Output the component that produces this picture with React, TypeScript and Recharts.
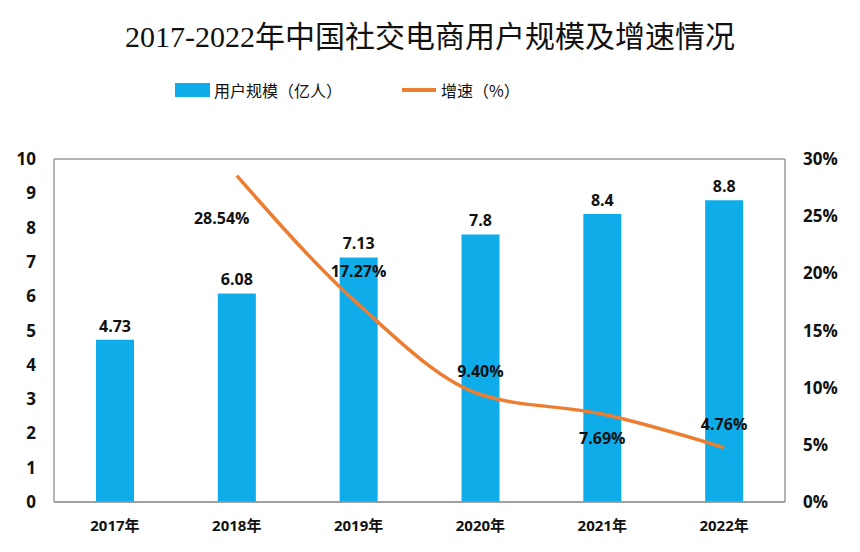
import { Bar, CartesianGrid, ComposedChart, LabelList, Line, XAxis, YAxis } from 'recharts'

const years = ['2017年', '2018年', '2019年', '2020年', '2021年', '2022年']
const users = [4.73, 6.08, 7.13, 7.8, 8.4, 8.8]
const growth = [null, 28.54, 17.27, 9.4, 7.69, 4.76]
const leftTicks = [0, 1, 2, 3, 4, 5, 6, 7, 8, 9, 10]
const rightTicks = [0, 5, 10, 15, 20, 25, 30]

const BAR_COLOR = '#0EADE9'
const LINE_COLOR = '#ED7D31'
const LABEL_FONT = '"Open Sans", "Noto Sans CJK SC", sans-serif'

// where each growth label sits relative to its point
const growthLabelShift = [
  { dx: 0, dy: 0 },
  { dx: -15, dy: 42 },
  { dx: 0, dy: -34 },
  { dx: 0, dy: -24 },
  { dx: 0, dy: 24 },
  { dx: 0, dy: -24 },
]

const chartData = years.map((year, i) => ({
  year,
  users: users[i],
  growth: growth[i],
}))

function GrowthLabel(props: any) {
  const { x, y, value, index } = props
  if (value == null) return null
  const shift = growthLabelShift[index] ?? { dx: 0, dy: -20 }
  return (
    <text
      x={x + shift.dx}
      y={y + shift.dy}
      textAnchor="middle"
      dominantBaseline="central"
      fontFamily={LABEL_FONT}
      fontWeight={700}
      fontSize={16}
      fill="#111"
    >
      {value.toFixed(2)}%
    </text>
  )
}

function ChartLegend() {
  return (
    <div
      style={{
        position: 'absolute',
        top: 78,
        left: 175,
        display: 'flex',
        alignItems: 'center',
        fontFamily: '"Noto Sans CJK SC", sans-serif',
        fontSize: 16,
        color: '#111',
      }}
    >
      <span style={{ width: 35, height: 14, background: BAR_COLOR, display: 'inline-block', marginRight: 4 }} />
      <span style={{ marginRight: 60 }}>用户规模（亿人）</span>
      <span style={{ width: 34, height: 4, background: LINE_COLOR, display: 'inline-block', marginRight: 5 }} />
      <span>增速（%）</span>
    </div>
  )
}

export default function App() {
  return (
    <div style={{ position: 'absolute', left: 0, top: 0, width: 860, height: 552, background: '#fff' }}>
      <div
        style={{
          position: 'absolute',
          top: 12,
          width: 860,
          textAlign: 'center',
          fontFamily: '"Liberation Serif", "Noto Sans CJK SC", serif',
          fontSize: 30,
          color: '#111',
          zIndex: 1,
        }}
      >
        2017-2022年中国社交电商用户规模及增速情况
      </div>
      <ChartLegend />
      <ComposedChart width={860} height={552} data={chartData} margin={{ top: 159, right: 40, bottom: 14, left: 4 }}>
        <CartesianGrid vertical={false} stroke="#9a9a9a" strokeWidth={1.5} />
        <XAxis
          dataKey="year"
          tickLine={false}
          axisLine={{ stroke: '#9a9a9a', strokeWidth: 1.5 }}
          tick={{ fill: '#111', fontSize: 15, fontWeight: 700, fontFamily: LABEL_FONT }}
          tickMargin={12}
          height={36}
        />
        <YAxis
          yAxisId="left"
          domain={[0, 10]}
          ticks={leftTicks}
          interval={0}
          tickLine={false}
          axisLine={{ stroke: '#9a9a9a', strokeWidth: 1.5 }}
          tick={{ fill: '#111', fontSize: 17, fontWeight: 700, fontFamily: LABEL_FONT }}
          tickMargin={12}
          width={50}
        />
        <YAxis
          yAxisId="right"
          orientation="right"
          domain={[0, 30]}
          ticks={rightTicks}
          interval={0}
          tickFormatter={(v: number) => `${v}%`}
          tickLine={false}
          axisLine={{ stroke: '#9a9a9a', strokeWidth: 1.5 }}
          tick={{ fill: '#111', fontSize: 17, fontWeight: 700, fontFamily: LABEL_FONT, textAnchor: 'start' }}
          tickMargin={12}
          width={35}
        />
        <Bar yAxisId="left" dataKey="users" fill={BAR_COLOR} barSize={38} isAnimationActive={false}>
          <LabelList
            dataKey="users"
            position="top"
            offset={8}
            fill="#111"
            fontSize={16}
            fontWeight={700}
            fontFamily={LABEL_FONT}
          />
        </Bar>
        <Line
          yAxisId="right"
          type="monotone"
          dataKey="growth"
          stroke={LINE_COLOR}
          strokeWidth={3.5}
          dot={false}
          activeDot={false}
          connectNulls={false}
          isAnimationActive={false}
        >
          <LabelList dataKey="growth" content={<GrowthLabel />} />
        </Line>
      </ComposedChart>
    </div>
  )
}
